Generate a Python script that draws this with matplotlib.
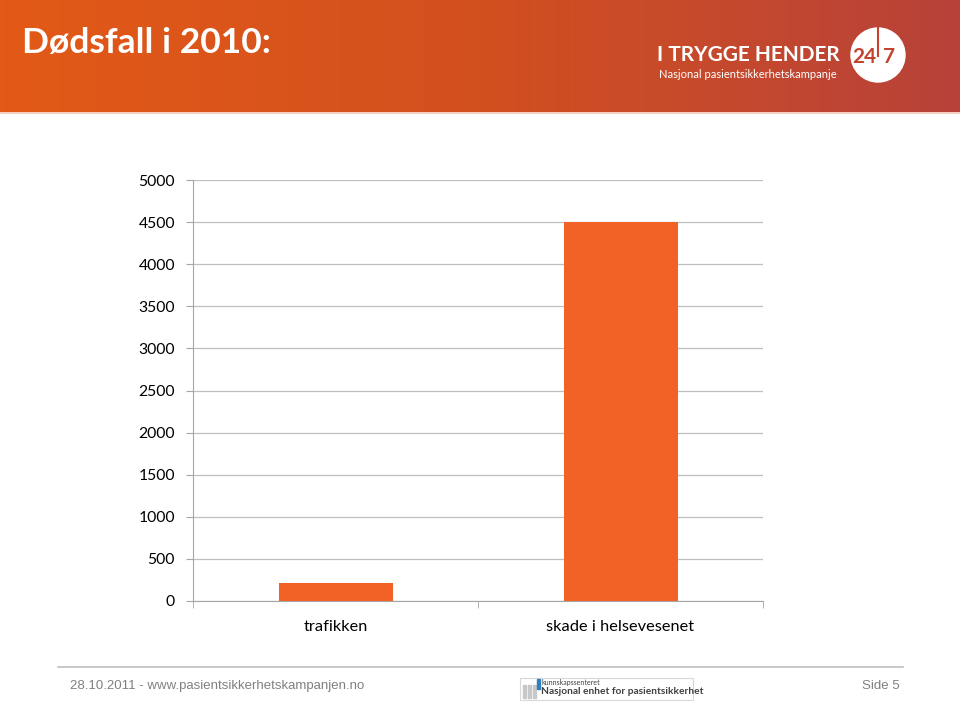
import matplotlib.pyplot as plt
import numpy as np
from matplotlib.patches import Circle, Rectangle
from matplotlib.colors import LinearSegmentedColormap

kategorier = ["trafikken", "skade i helsevesenet"]
dodsfall = [208, 4500]
yticks = [0, 500, 1000, 1500, 2000, 2500, 3000, 3500, 4000, 4500, 5000]

tittel = "Dødsfall i 2010:"
fot_tekst = "28.10.2011 - www.pasientsikkerhetskampanjen.no"
side_tekst = "Side 5"

W, H = 960, 702
fig = plt.figure(figsize=(9.6, 7.02), dpi=100)
fig.patch.set_facecolor("white")

# bakgrunn / dekor i pikselkoordinater
bg = fig.add_axes([0, 0, 1, 1])
bg.axis("off")

cmap = LinearSegmentedColormap.from_list("hdr", ["#E35A17", "#D2501F", "#B8423A"])
grad = np.linspace(0, 1, 256).reshape(1, -1)
bg.imshow(grad, cmap=cmap, extent=[0, W, 112, 0], aspect="auto", zorder=0)
bg.plot([0, W], [113, 113], color="#F0C8B8", lw=1.2, zorder=1)
bg.set_xlim(0, W)
bg.set_ylim(H, 0)

bg.text(22, 43, tittel, color="white", fontsize=25.5, fontweight="bold",
        family="Lato", va="center", ha="left")

# logo I TRYGGE HENDER 24/7
bg.text(657, 55, "I TRYGGE HENDER", color="white", fontsize=15, fontweight="bold",
        family="Lato", va="center", ha="left")
bg.text(659, 74, "Nasjonal pasientsikkerhetskampanje", color="white", fontsize=8,
        family="Lato", va="center", ha="left")
bg.add_patch(Circle((878, 55), 27, color="white", zorder=2))
bg.plot([878, 878], [27, 56], color="#C4432F", lw=1.5, zorder=3)
bg.text(864, 57, "24", color="#C4432F", fontsize=15, fontweight="bold",
        family="Lato", va="center", ha="center", zorder=4)
bg.text(889, 57, "7", color="#C4432F", fontsize=15, fontweight="bold",
        family="Lato", va="center", ha="center", zorder=4)

# bunntekst
bg.plot([58, 903], [667, 667], color="#BFBFBF", lw=1.2)
bg.text(70, 686, fot_tekst, color="#808080", fontsize=9.5,
        family="Liberation Sans", va="center", ha="left")
bg.text(900, 686, side_tekst, color="#808080", fontsize=9.5,
        family="Liberation Sans", va="center", ha="right")
bg.add_patch(Rectangle((520, 678), 173, 22, facecolor="white", edgecolor="#D8D8D8", lw=0.8))
for x in [523, 528, 533]:
    bg.add_patch(Rectangle((x, 685), 3, 13, color="#C8C8C8"))
bg.add_patch(Rectangle((537, 679), 2.5, 10, color="#2F7FC1"))
bg.text(541, 682, "kunnskapssenteret", color="#404040", fontsize=5,
        family="Lato", va="center", ha="left")
bg.text(541, 692, "Nasjonal enhet for pasientsikkerhet", color="#404040", fontsize=7.3,
        fontweight="bold", family="Lato", va="center", ha="left")

# selve diagrammet
ax = fig.add_axes([193 / W, 1 - 601 / H, (763 - 193) / W, (601 - 180) / H])
x = np.arange(len(kategorier))
ax.bar(x, dodsfall, width=0.4, color="#F26125", zorder=3)
ax.set_xlim(-0.5, len(kategorier) - 0.5)
ax.set_ylim(0, 5000)
ax.set_yticks(yticks)
ax.set_yticklabels([str(v) for v in yticks], fontsize=11.3, family="Lato")
ax.yaxis.grid(True, color="#BFBFBF", lw=0.9, zorder=0)
ax.set_axisbelow(True)
for s in ["top", "right"]:
    ax.spines[s].set_visible(False)
ax.spines["left"].set_color("#A6A6A6")
ax.spines["bottom"].set_color("#A6A6A6")
ax.tick_params(axis="y", length=5, color="#A6A6A6", pad=8, labelcolor="black")
ax.set_xticks(x)
ax.set_xticklabels(kategorier, fontsize=11.8, family="Lato")
ax.tick_params(axis="x", length=0, pad=14)
ax.set_xticks([-0.5, 0.5, 1.5], minor=True)
ax.tick_params(axis="x", which="minor", length=5, color="#A6A6A6")

fig.savefig("out.png", dpi=100)
